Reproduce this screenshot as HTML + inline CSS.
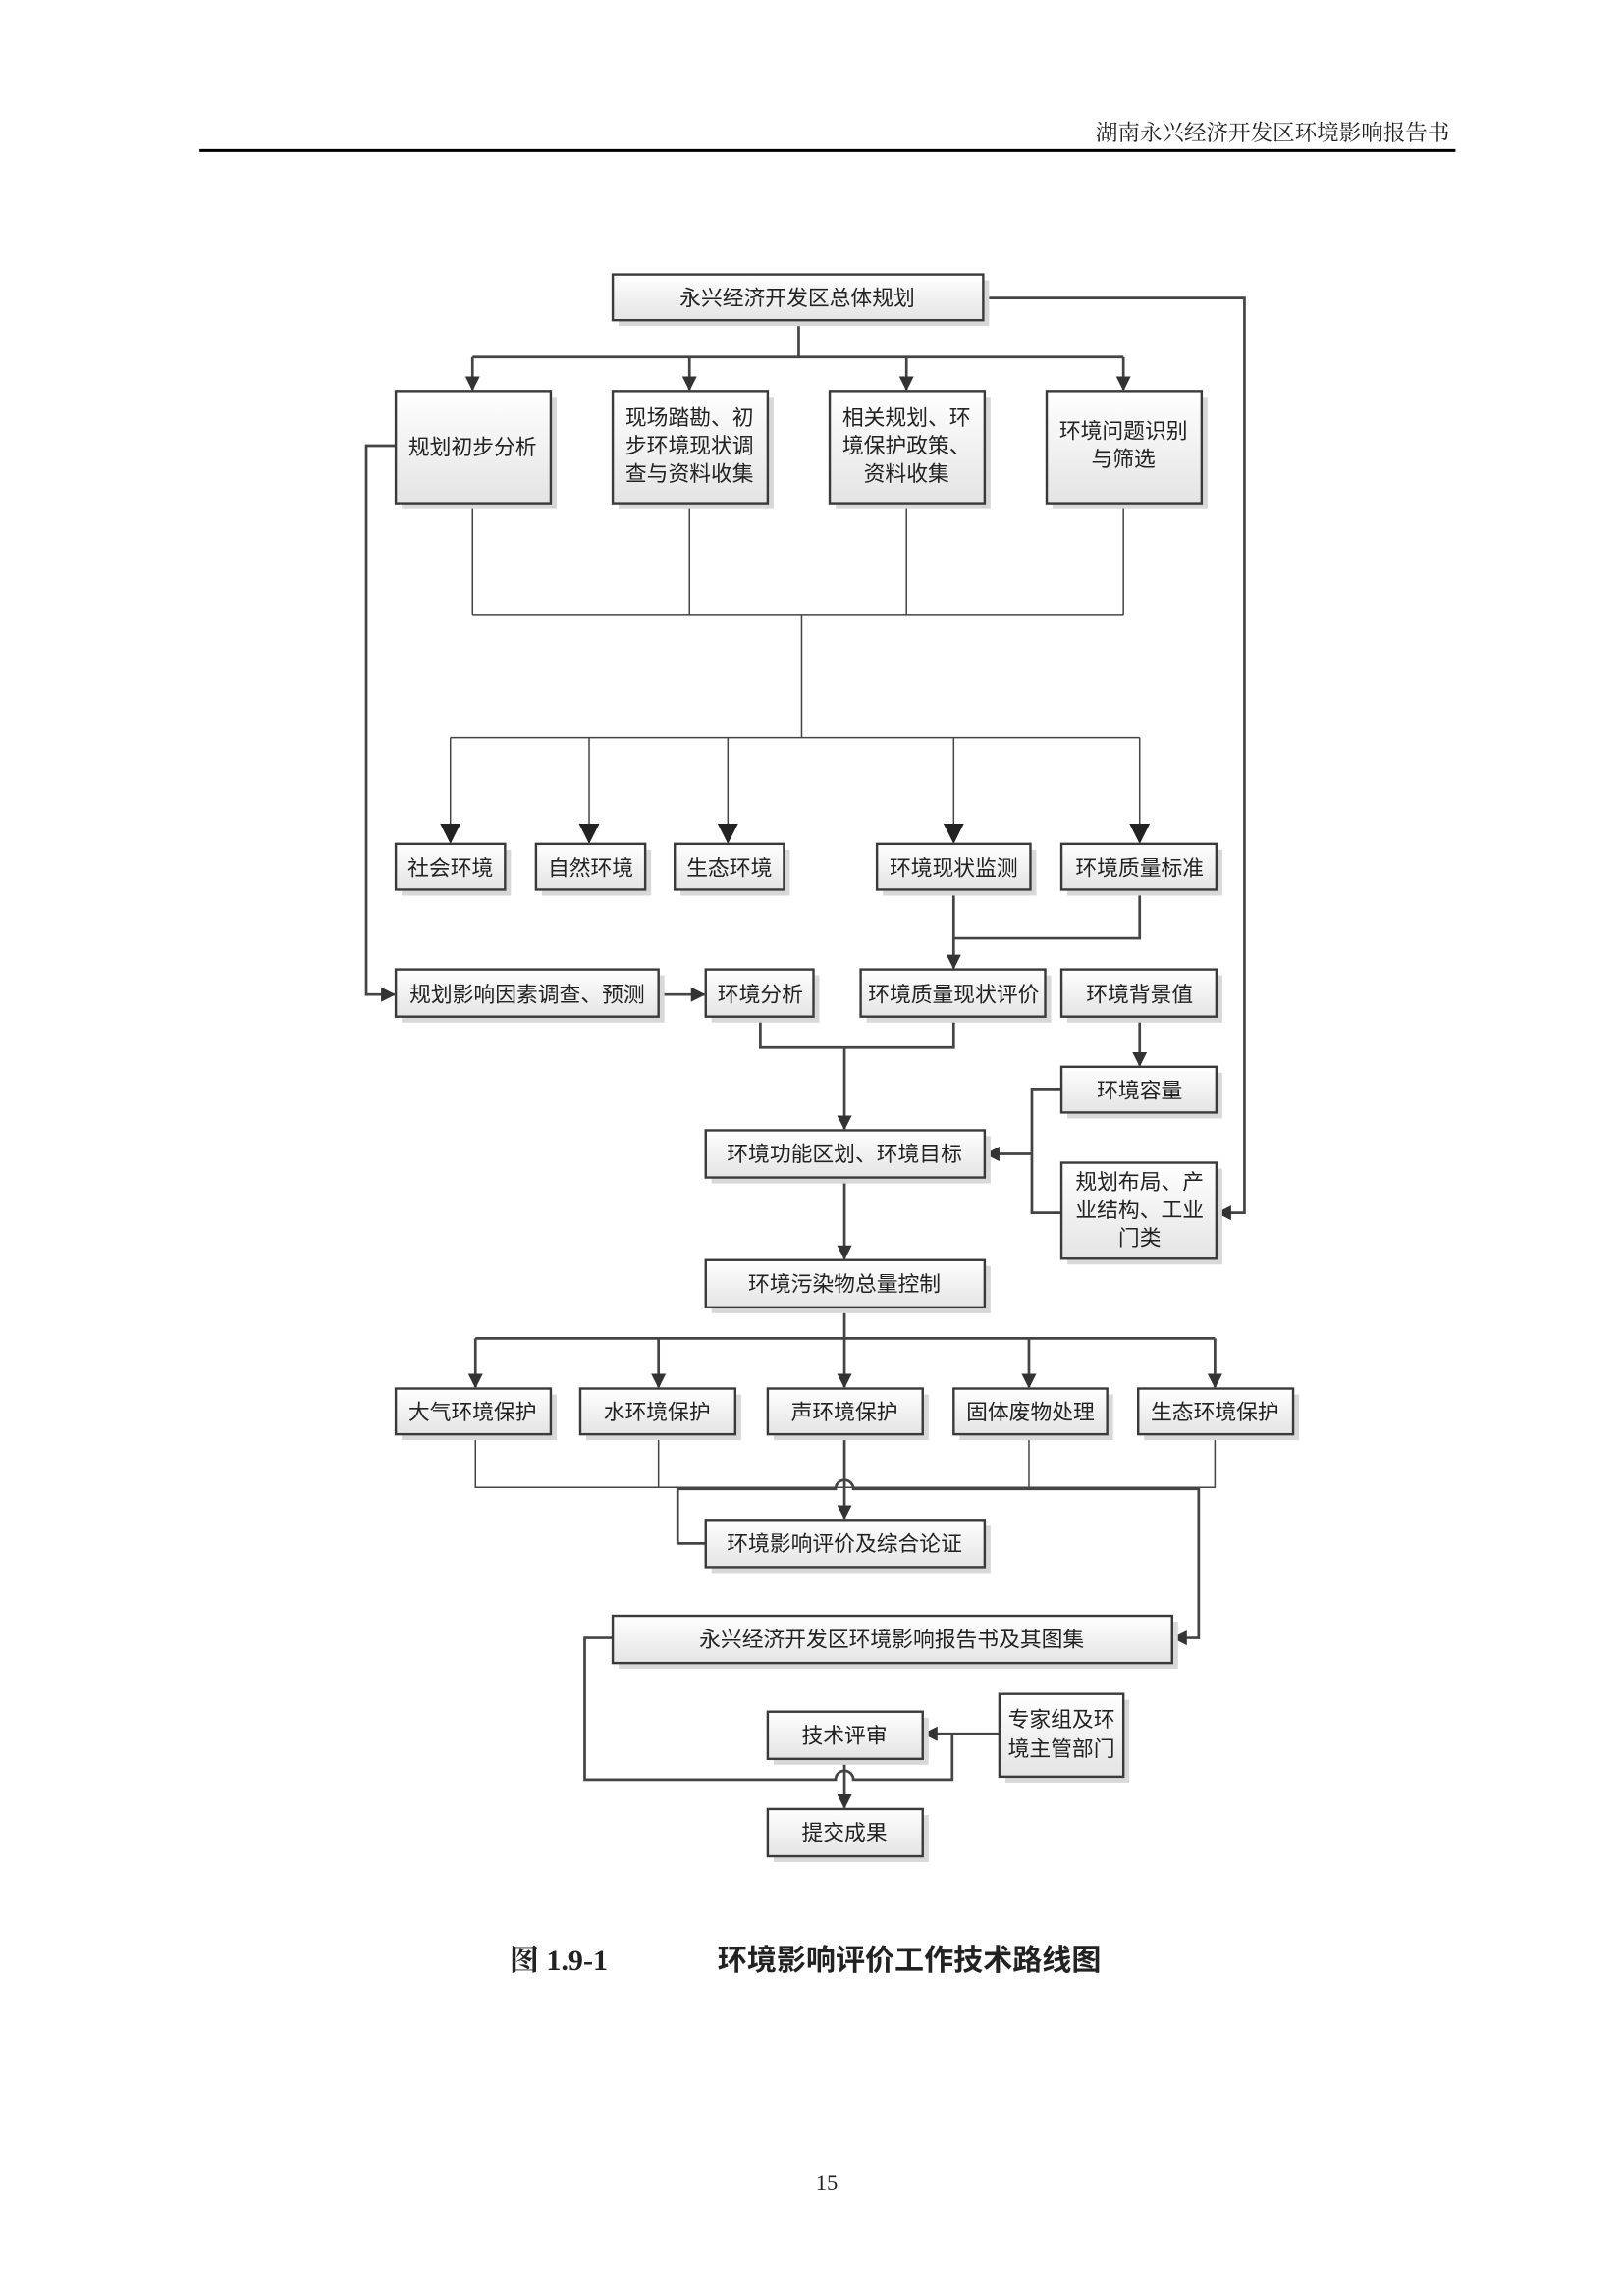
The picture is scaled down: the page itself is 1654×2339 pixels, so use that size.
<!DOCTYPE html>
<html><head><meta charset="utf-8"><style>
html,body{margin:0;padding:0;background:#fff}
svg{display:block}
text{font-family:"Liberation Serif","Noto Serif CJK SC","Noto Sans CJK SC",serif;fill:#222}
.b{fill:url(#g);stroke:#3a3a3a;stroke-width:1.6}
.s{fill:#d8d8d8}
.l{stroke:#444;stroke-width:1;fill:none}
.t{stroke:#444;stroke-width:1.8;fill:none}
.bt{font-size:14.5px;font-family:"Liberation Sans","Noto Sans CJK SC",sans-serif}
</style></head><body>
<svg width="1654" height="2339" viewBox="0 0 1100 1556" xmlns="http://www.w3.org/2000/svg">
<defs>
<linearGradient id="g" x1="0" y1="0" x2="0" y2="1"><stop offset="0" stop-color="#ffffff"/><stop offset="1" stop-color="#e4e4e4"/></linearGradient>
<marker id="a" markerWidth="10" markerHeight="10" refX="9" refY="5" orient="auto" markerUnits="userSpaceOnUse"><path d="M0,0 L10,5 L0,10 Z" fill="#333"/></marker>
<marker id="a2" markerWidth="14" markerHeight="14" refX="13" refY="7" orient="auto" markerUnits="userSpaceOnUse"><path d="M0,0 L14,7 L0,14 Z" fill="#222"/></marker>
</defs>
<text x="982" y="95" text-anchor="end" style="font-size:15px">湖南永兴经济开发区环境影响报告书</text>
<line x1="135" y1="102" x2="986" y2="102" stroke="#000" stroke-width="2"/>

<path class="t" d="M541,217 V242 M320,242 H761"/>
<path class="t" d="M320,242 V264" marker-end="url(#a)"/><path class="t" d="M467,242 V264" marker-end="url(#a)"/>
<path class="t" d="M614,242 V264" marker-end="url(#a)"/><path class="t" d="M761,242 V264" marker-end="url(#a)"/>
<path class="l" d="M320,341 V417 M467,341 V417 M614,341 V417 M761,341 V417 M320,417 H761 M543,417 V500 M305,500 H772"/>
<path class="l" d="M305,500 V571" marker-end="url(#a2)"/><path class="l" d="M399,500 V571" marker-end="url(#a2)"/>
<path class="l" d="M493,500 V571" marker-end="url(#a2)"/><path class="l" d="M646,500 V571" marker-end="url(#a2)"/>
<path class="l" d="M772,500 V571" marker-end="url(#a2)"/>
<path class="t" d="M772,603 V636 H646 M646,603 V656" marker-end="url(#a)"/>
<path class="t" d="M268,302 H248 V674 H267" marker-end="url(#a)"/>
<path class="t" d="M446,674 H477" marker-end="url(#a)"/>
<path class="t" d="M515,689 V710 H646 V689 M572,710 V765" marker-end="url(#a)"/>
<path class="t" d="M772,689 V722" marker-end="url(#a)"/>
<path class="t" d="M719,738 H699 V822 H719 M699,782 H668" marker-end="url(#a)"/>
<path class="t" d="M666,202 H843 V822 H825" marker-end="url(#a)"/>
<path class="t" d="M572,798 V853" marker-end="url(#a)"/>
<path class="t" d="M572,886 V907 M322,907 H823"/>
<path class="t" d="M322,907 V940" marker-end="url(#a)"/><path class="t" d="M446,907 V940" marker-end="url(#a)"/>
<path class="t" d="M572,907 V940" marker-end="url(#a)"/><path class="t" d="M697,907 V940" marker-end="url(#a)"/>
<path class="t" d="M823,907 V940" marker-end="url(#a)"/>
<path class="l" d="M322,972 V1008 H823 V972 M446,972 V1008 M697,972 V1008"/>
<path class="t" d="M459,1046 H478 M459,1046 V1009 H566 A6,6 0 0 1 578,1009 H812 V1110 H795" marker-end="url(#a)"/>
<path class="t" d="M572,972 V1029" marker-end="url(#a)"/>
<path class="t" d="M415,1110 H396 V1206 H566 A6,6 0 0 1 578,1206 H645 V1175"/>
<path class="t" d="M677,1175 H626" marker-end="url(#a)"/>
<path class="t" d="M572,1192 V1225" marker-end="url(#a)"/>

<g>
<rect class="s" x="419" y="190" width="251" height="31"/><rect class="b" x="415" y="186" width="251" height="31"/>
<text class="bt" x="540" y="207" text-anchor="middle">永兴经济开发区总体规划</text>

<rect class="s" x="272" y="269" width="105" height="76"/><rect class="b" x="268" y="265" width="105" height="76"/>
<text class="bt" x="320" y="308" text-anchor="middle">规划初步分析</text>
<rect class="s" x="419" y="269" width="105" height="76"/><rect class="b" x="415" y="265" width="105" height="76"/>
<text class="bt" x="467" y="288" text-anchor="middle">现场踏勘、初</text><text class="bt" x="467" y="307" text-anchor="middle">步环境现状调</text><text class="bt" x="467" y="326" text-anchor="middle">查与资料收集</text>
<rect class="s" x="566" y="269" width="105" height="76"/><rect class="b" x="562" y="265" width="105" height="76"/>
<text class="bt" x="614" y="288" text-anchor="middle">相关规划、环</text><text class="bt" x="614" y="307" text-anchor="middle">境保护政策、</text><text class="bt" x="614" y="326" text-anchor="middle">资料收集</text>
<rect class="s" x="713" y="269" width="105" height="76"/><rect class="b" x="709" y="265" width="105" height="76"/>
<text class="bt" x="761" y="297" text-anchor="middle">环境问题识别</text><text class="bt" x="761" y="316" text-anchor="middle">与筛选</text>

<rect class="s" x="272" y="576" width="74" height="31"/><rect class="b" x="268" y="572" width="74" height="31"/>
<text class="bt" x="305" y="593" text-anchor="middle">社会环境</text>
<rect class="s" x="367" y="576" width="74" height="31"/><rect class="b" x="363" y="572" width="74" height="31"/>
<text class="bt" x="400" y="593" text-anchor="middle">自然环境</text>
<rect class="s" x="461" y="576" width="74" height="31"/><rect class="b" x="457" y="572" width="74" height="31"/>
<text class="bt" x="494" y="593" text-anchor="middle">生态环境</text>
<rect class="s" x="598" y="576" width="104" height="31"/><rect class="b" x="594" y="572" width="104" height="31"/>
<text class="bt" x="646" y="593" text-anchor="middle">环境现状监测</text>
<rect class="s" x="723" y="576" width="105" height="31"/><rect class="b" x="719" y="572" width="105" height="31"/>
<text class="bt" x="772" y="593" text-anchor="middle">环境质量标准</text>

<rect class="s" x="272" y="661" width="178" height="32"/><rect class="b" x="268" y="657" width="178" height="32"/>
<text class="bt" x="357" y="679" text-anchor="middle">规划影响因素调查、预测</text>
<rect class="s" x="482" y="661" width="73" height="32"/><rect class="b" x="478" y="657" width="73" height="32"/>
<text class="bt" x="515" y="679" text-anchor="middle">环境分析</text>
<rect class="s" x="587" y="661" width="125" height="32"/><rect class="b" x="583" y="657" width="125" height="32"/>
<text class="bt" x="646" y="679" text-anchor="middle">环境质量现状评价</text>
<rect class="s" x="723" y="661" width="105" height="32"/><rect class="b" x="719" y="657" width="105" height="32"/>
<text class="bt" x="772" y="679" text-anchor="middle">环境背景值</text>

<rect class="s" x="723" y="727" width="105" height="31"/><rect class="b" x="719" y="723" width="105" height="31"/>
<text class="bt" x="772" y="744" text-anchor="middle">环境容量</text>
<rect class="s" x="482" y="770" width="189" height="32"/><rect class="b" x="478" y="766" width="189" height="32"/>
<text class="bt" x="572" y="787" text-anchor="middle">环境功能区划、环境目标</text>
<rect class="s" x="723" y="792" width="105" height="65"/><rect class="b" x="719" y="788" width="105" height="65"/>
<text class="bt" x="772" y="806" text-anchor="middle">规划布局、产</text><text class="bt" x="772" y="825" text-anchor="middle">业结构、工业</text><text class="bt" x="772" y="844" text-anchor="middle">门类</text>

<rect class="s" x="482" y="858" width="189" height="32"/><rect class="b" x="478" y="854" width="189" height="32"/>
<text class="bt" x="572" y="875" text-anchor="middle">环境污染物总量控制</text>

<rect class="s" x="272" y="945" width="105" height="31"/><rect class="b" x="268" y="941" width="105" height="31"/>
<text class="bt" x="320" y="962" text-anchor="middle">大气环境保护</text>
<rect class="s" x="397" y="945" width="105" height="31"/><rect class="b" x="393" y="941" width="105" height="31"/>
<text class="bt" x="445" y="962" text-anchor="middle">水环境保护</text>
<rect class="s" x="524" y="945" width="105" height="31"/><rect class="b" x="520" y="941" width="105" height="31"/>
<text class="bt" x="572" y="962" text-anchor="middle">声环境保护</text>
<rect class="s" x="650" y="945" width="104" height="31"/><rect class="b" x="646" y="941" width="104" height="31"/>
<text class="bt" x="698" y="962" text-anchor="middle">固体废物处理</text>
<rect class="s" x="775" y="945" width="105" height="31"/><rect class="b" x="771" y="941" width="105" height="31"/>
<text class="bt" x="823" y="962" text-anchor="middle">生态环境保护</text>

<rect class="s" x="482" y="1034" width="189" height="32"/><rect class="b" x="478" y="1030" width="189" height="32"/>
<text class="bt" x="572" y="1051" text-anchor="middle">环境影响评价及综合论证</text>

<rect class="s" x="419" y="1099" width="379" height="32"/><rect class="b" x="415" y="1095" width="379" height="32"/>
<text class="bt" x="604" y="1116" text-anchor="middle">永兴经济开发区环境影响报告书及其图集</text>

<rect class="s" x="681" y="1152" width="84" height="56"/><rect class="b" x="677" y="1148" width="84" height="56"/>
<text class="bt" x="719" y="1170" text-anchor="middle">专家组及环</text><text class="bt" x="719" y="1190" text-anchor="middle">境主管部门</text>
<rect class="s" x="524" y="1164" width="105" height="32"/><rect class="b" x="520" y="1160" width="105" height="32"/>
<text class="bt" x="572" y="1181" text-anchor="middle">技术评审</text>
<rect class="s" x="524" y="1230" width="105" height="32"/><rect class="b" x="520" y="1226" width="105" height="32"/>
<text class="bt" x="572" y="1247" text-anchor="middle">提交成果</text>
</g>

<text x="345" y="1335" style="font-size:20px;font-weight:bold">图 1.9-1</text>
<text x="486" y="1335" style="font-size:20px;font-weight:bold;font-family:'Liberation Sans','Noto Sans CJK SC',sans-serif">环境影响评价工作技术路线图</text>
<text x="560" y="1484" text-anchor="middle" style="font-size:15px">15</text>
</svg>
</body></html>
